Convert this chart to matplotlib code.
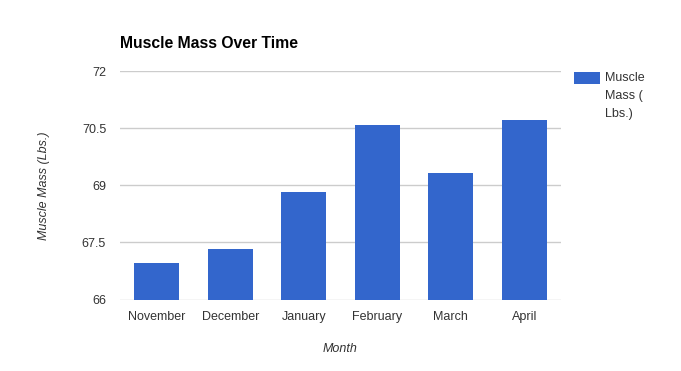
import matplotlib
matplotlib.use("Agg")
import matplotlib.pyplot as plt
from matplotlib.patches import Rectangle

months = ["November", "December", "January", "February", "March", "April"]
muscle_mass = [66.96, 67.32, 68.82, 70.59, 69.32, 70.72]
y_ticks = [66, 67.5, 69, 70.5, 72]
y_tick_labels = ["66", "67.5", "69", "70.5", "72"]
series_name = "Muscle\nMass (\nLbs.)"

plt.rcParams['font.family'] = ['Liberation Sans', 'DejaVu Sans']

W, H = 681, 371
fig = plt.figure(figsize=(W/100, H/100), dpi=100)
ax = fig.add_axes([120/W, 1-299.5/H, 441/W, 228.5/H])

x = range(len(months))
ax.bar(x, muscle_mass, width=0.61, color="#3366cc", zorder=3)
ax.set_xlim(-0.5, len(months)-0.5)
ax.set_ylim(66, 72)
ax.set_yticks(y_ticks)
ax.set_yticklabels(y_tick_labels)
ax.set_xticks(list(x))
ax.set_xticklabels(months)
ax.grid(axis="y", color="#cccccc", linewidth=1, zorder=0)
ax.set_axisbelow(True)
for s in ax.spines.values():
    s.set_visible(False)
ax.tick_params(axis="both", length=0, labelsize=9, colors="#333333")
ax.tick_params(axis="y", pad=10)
ax.tick_params(axis="x", pad=8)

ax.set_ylabel("Muscle Mass (Lbs.)", fontsize=9, style="italic", color="#333333", labelpad=23)
ax.set_xlabel("Month", fontsize=9, style="italic", color="#333333", labelpad=15)

fig.text(120/W, 1-43/H, "Muscle Mass Over Time", fontsize=11.3, fontweight="bold",
         color="#000000", va="center", ha="left")

# legend drawn manually
fig.patches.append(Rectangle((574/W, 1-83.5/H), 26/W, 12/H, transform=fig.transFigure,
                             facecolor="#3366cc", edgecolor="none"))
fig.text(605/W, 1-72/H, series_name, fontsize=9, color="#333333",
         va="top", ha="left", linespacing=1.68)

fig.savefig("out.png", dpi=100)
